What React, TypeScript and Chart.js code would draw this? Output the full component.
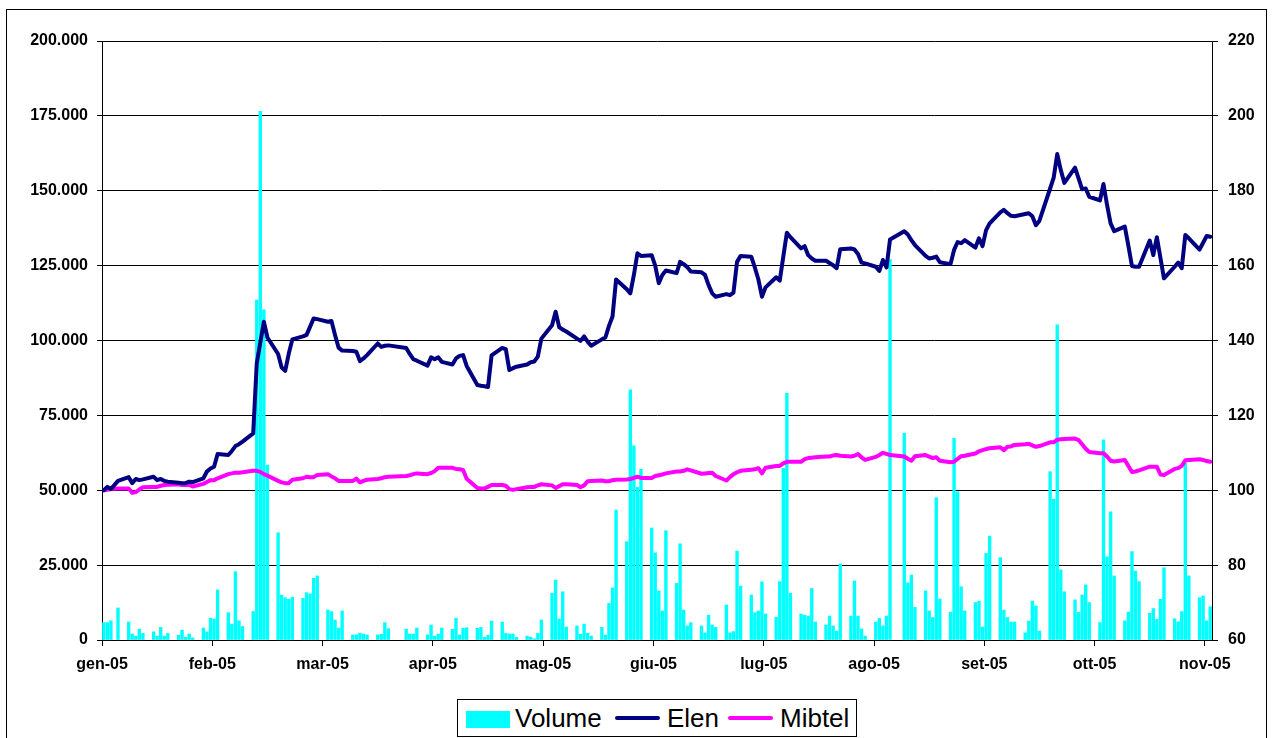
import React, { useEffect, useRef } from "react";
import { Chart, registerables } from "chart.js";

Chart.register(...registerables);

// ---- axis / category data ----
// Trading weekdays from Monday 3 Jan 2005 to Thursday 10 Nov 2005 (5 per week; null = market closed)
const monthLabels = ["gen-05", "feb-05", "mar-05", "apr-05", "mag-05", "giu-05", "lug-05", "ago-05", "set-05", "ott-05", "nov-05"];
// day offsets from 3 Jan 2005 of the month ticks (major unit 31 days)
const monthTickDays = [0, 31, 62, 93, 124, 155, 186, 217, 248, 279, 310];
const axisDays = 312;

const volumeTicks = [0, 25000, 50000, 75000, 100000, 125000, 150000, 175000, 200000];
const priceTicks = [60, 80, 100, 120, 140, 160, 180, 200, 220];

// ---- series (one value per weekday) ----
const volume = [
  5800, 5800, 6400, null, 10700,
  6000, 2000, 1300, 3600, 2200,
  2700, 1300, 4200, 1300, 2200,
  1600, 3300, 900, 2000, 700,
  4000, 2700, 7300, 7000, 16700,
  9100, 5300, 22800, 6400, 4500,
  9500, 113500, 176500, 110200, 58400,
  35800, 15000, 14100, 13600, 14300,
  13900, 15800, 15400, 20600, 21400,
  10000, 9500, 6700, 4000, 9700,
  1700, 1700, 2300, 2000, 1700,
  1700, 1900, 5800, 3800, null,
  null, 3600, 2000, 2000, 4000,
  1700, 5000, 1300, 2000, 4000,
  3600, 7300, 1700, 3900, 4100,
  3900, 4200, 900, 1600, 6300,
  6000, 2200, 2000, 2000, 900,
  1300, 900, 400, 2200, 6700,
  15600, 20000, 7000, 16100, 4300,
  4700, 1900, 5300, 2200, 1300,
  4200, 1600, 12200, 17400, 43400,
  32800, 83500, 64800, 51000, 57000,
  37400, 29100, 16400, 9700, 36500,
  18900, 32100, 10000, 4700, 5800,
  4700, 2400, 8300, 5000, 4200,
  11700, 2400, 2800, 29700, 18000,
  15000, 9100, 9700, 19400, 8700,
  7600, 19500, 57300, 82400, 15600,
  8700, 8300, 8000, 17200, 6000,
  5000, 8000, 4700, 3000, 25400,
  8000, 19700, 8000, 3700, 1300,
  6000, 7200, 4700, 8000, 127000,
  null, 69000, 19100, 21700, 10900,
  16400, 9700, 7500, 47500, 13700,
  9300, 67300, 49500, 17800, 9700,
  12500, 13000, 4300, 28900, 34700,
  27500, 10000, 7500, 6000, 6000,
  2400, 6300, 13000, 11400, 3000,
  56200, 47000, 105200, 23400, 16100,
  13400, 9200, 15000, 18400, 12500,
  5800, 66800, 27800, 42800, 21400,
  6400, 9300, 29500, 23000, 19500,
  8900, 10500, 6900, 13600, 24100,
  7100, 6100, 9500, 59000, 21400,
  14100, 14700, 6400, 11100,
];

const elen = [
  100.0, 100.9, 100.3, null, 102.5,
  103.5, 101.9, 103.0, 102.7, 102.9,
  103.6, 102.7, 103.0, 102.5, 102.3,
  102.0, 101.9, 101.9, 102.3, 102.2,
  103.2, 105.0, 105.8, 106.3, 109.7,
  109.4, 110.5, 111.8, 112.3, 113.0,
  115.2, 133.9, 139.5, 145.0, 140.8,
  136.4, 132.8, 131.9, 136.5, 140.3,
  141.1, 141.5, 143.7, 145.9, 145.7,
  145.0, 145.2, 141.5, 138.1, 137.3,
  137.2, 137.0, 134.5, 135.2, 136.1,
  139.2, 138.3, 138.6, 138.7, null,
  null, 138.0, 136.4, 135.0, 134.6,
  133.3, 135.5, 135.0, 135.5, 134.3,
  133.6, 135.2, 135.9, 136.1, 133.2,
  128.1, 127.9, 127.8, 127.6, 136.0,
  138.0, 137.7, 132.1, 132.6, 133.0,
  133.6, 134.2, 134.4, 135.7, 140.5,
  144.1, 147.7, 143.6, 142.9, 142.4,
  140.5, 139.9, 141.1, 139.7, 138.6,
  140.3, 140.8, 143.9, 146.4, 156.3,
  153.7, 152.6, 157.5, 163.3, 162.6,
  162.8, 160.0, 155.3, 157.5, 158.7,
  158.0, 161.0, 160.4, 159.6, 158.4,
  158.2, 157.5, 154.8, 152.6, 151.7,
  152.4, 152.1, 152.8, 161.0, 162.6,
  162.4, 159.5, 156.3, 151.7, 154.2,
  156.9, 156.0, 162.4, 168.8, 167.6,
  164.6, 165.2, 162.8, 161.9, 161.3,
  161.3, 160.7, 160.1, 159.3, 164.4,
  164.6, 164.3, 163.1, 160.8, 160.6,
  159.7, 158.6, 161.5, 159.5, 167.0,
  null, 169.2, 168.3, 166.8, 165.5,
  162.6, 161.9, 162.1, 162.4, 160.9,
  160.4, 164.2, 166.3, 166.0, 166.8,
  164.8, 167.3, 165.2, 169.5, 171.3,
  174.2, 174.9, 174.0, 173.3, 173.2,
  173.8, 174.0, 173.2, 170.8, 172.0,
  180.6, 183.5, 189.8, 185.5, 182.1,
  186.2, 183.3, 180.4, 180.6, 178.4,
  177.4, 181.8, 176.2, 171.3, 169.2,
  170.4, 165.3, 159.9, 159.7, 159.7,
  166.7, 162.8, 167.6, 162.1, 156.6,
  159.7, 160.8, 159.3, 168.2, 167.3,
  164.3, 166.1, 167.9, 167.7,
];

const mibtel = [
  100.0, 100.1, 100.3, null, 100.5,
  100.5, 99.3, 99.5, 100.2, 100.8,
  100.9, 100.9, 101.2, 101.4, 101.5,
  101.6, 101.4, 101.4, 101.4, 101.0,
  101.7, 102.2, 102.7, 102.7, 103.2,
  104.3, 104.5, 104.7, 104.7, 104.8,
  105.2, 105.2, 104.9, 104.3, 103.9,
  102.5, 102.1, 101.9, 101.9, 102.8,
  103.2, 103.6, 103.5, 103.5, 104.1,
  104.3, 103.7, 103.2, 102.5, 102.5,
  102.5, 103.1, 102.1, 102.5, 102.8,
  103.0, 103.2, 103.5, 103.6, null,
  null, 103.8, 104.0, 104.3, 104.5,
  104.3, 104.6, 105.1, 106.0, 106.0,
  106.0, 105.7, 105.6, 105.4, 103.1,
  100.6, 100.5, 100.5, 100.9, 101.4,
  101.4, 101.2, 100.3, 100.1, 100.3,
  100.8, 100.9, 100.9, 101.3, 101.6,
  101.3, 100.6, 101.1, 101.6, 101.6,
  101.4, 100.8, 101.3, 102.4, 102.5,
  102.6, 102.4, 102.4, 102.7, 102.8,
  102.9, 103.0, 103.3, 103.6, 103.3,
  103.3, 103.8, 104.0, 104.2, 104.5,
  105.0, 105.0, 105.2, 105.6, 105.3,
  104.4, 104.5, 104.6, 104.7, 103.8,
  102.6, 103.5, 104.3, 104.8, 105.2,
  105.5, 105.6, 105.9, 104.5, 106.0,
  106.5, 106.5, 107.2, 107.6, 107.6,
  107.6, 108.3, 108.6, 108.7, 108.8,
  109.0, 109.0, 109.3, 109.4, 109.2,
  109.0, 109.2, 109.7, 108.8, 108.1,
  108.9, 109.4, 110.0, 109.7, 109.4,
  null, 109.0, 108.4, 107.9, 109.1,
  109.4, 109.0, 108.6, 108.8, 107.9,
  107.5, 107.6, 108.4, 109.1, 109.2,
  109.8, 110.4, 110.7, 111.0, 111.2,
  111.5, 110.7, 111.6, 111.7, 112.1,
  112.3, 112.4, 112.0, 111.6, 111.8,
  112.8, 112.8, 113.5, 113.6, 113.7,
  113.8, 113.4, 112.3, 111.1, 110.2,
  109.9, 109.9, 109.0, 107.9, 107.7,
  108.1, 106.5, 104.9, 105.0, 105.3,
  106.3, 106.3, 106.3, 104.2, 104.1,
  105.7, 105.9, 106.5, 108.0, 108.1,
  108.3, 108.1, 107.8, 107.6,
];

// calendar day offset (from 3 Jan 2005) of each weekday in the lists
const tradingDays = volume.map((_, i) => 7 * Math.floor(i / 5) + (i % 5));

const FONT = '"Liberation Sans", Arial, Helvetica, sans-serif';

function toPoints(values: (number | null)[]) {
  return values.map((v, i) => ({ x: tradingDays[i] + 0.5, y: v }));
}

function fmtThousands(v: number) {
  if (v === 0) return "0";
  const s = Math.round(v).toString();
  return s.replace(/\B(?=(\d{3})+(?!\d))/g, ".");
}

export default function App() {
  const ref = useRef<HTMLCanvasElement | null>(null);

  useEffect(() => {
    if (!ref.current) return;
    const tickFont = { family: FONT, size: 16, weight: "bold" as const };
    const chart = new Chart(ref.current, {
      type: "bar",
      data: {
        datasets: [
          {
            type: "line",
            label: "Elen",
            data: toPoints(elen) as any,
            yAxisID: "y1",
            borderColor: "#000080",
            borderWidth: 4,
            pointRadius: 0,
            tension: 0,
            spanGaps: true,
            borderJoinStyle: "round",
            borderCapStyle: "round",
            order: 1,
          },
          {
            type: "line",
            label: "Mibtel",
            data: toPoints(mibtel) as any,
            yAxisID: "y1",
            borderColor: "#FF00FF",
            borderWidth: 4,
            pointRadius: 0,
            tension: 0,
            spanGaps: true,
            borderJoinStyle: "round",
            borderCapStyle: "round",
            order: 2,
          },
          {
            type: "bar",
            label: "Volume",
            data: toPoints(volume) as any,
            yAxisID: "y",
            backgroundColor: "#00FFFF",
            borderWidth: 0,
            barThickness: 2.7,
            order: 3,
          },
        ],
      },
      options: {
        responsive: false,
        animation: false,
        layout: { padding: { top: 41, left: 0, right: 0, bottom: 0 } },
        plugins: { legend: { display: false }, tooltip: { enabled: false } },
        scales: {
          x: {
            type: "linear",
            min: 0,
            max: axisDays,
            offset: false,
            afterBuildTicks: (scale: any) => {
              scale.ticks = monthTickDays.map((v) => ({ value: v }));
            },
            afterFit: (scale: any) => {
              scale.height = 98;
            },
            ticks: {
              autoSkip: false,
              maxRotation: 0,
              minRotation: 0,
              padding: 9,
              color: "#000",
              font: tickFont,
              callback: (_v: any, i: number) => monthLabels[i],
            },
            grid: {
              display: true,
              offset: false,
              drawOnChartArea: false,
              drawTicks: true,
              tickLength: 6,
              color: "#000",
              lineWidth: 1,
            },
            border: { display: true, color: "#000", width: 1 },
          },
          y: {
            position: "left",
            min: 0,
            max: 200000,
            afterBuildTicks: (scale: any) => {
              scale.ticks = volumeTicks.map((v) => ({ value: v }));
            },
            afterFit: (scale: any) => {
              scale.width = 102;
            },
            ticks: {
              padding: 9,
              color: "#000",
              font: tickFont,
              callback: (v: any) => fmtThousands(Number(v)),
            },
            grid: {
              display: true,
              drawOnChartArea: true,
              drawTicks: true,
              tickLength: 5,
              color: "#000",
              lineWidth: 1,
            },
            border: { display: true, color: "#000", width: 1 },
          },
          y1: {
            position: "right",
            min: 60,
            max: 220,
            afterBuildTicks: (scale: any) => {
              scale.ticks = priceTicks.map((v) => ({ value: v }));
            },
            afterFit: (scale: any) => {
              scale.width = 60;
            },
            ticks: {
              padding: 10,
              color: "#000",
              font: tickFont,
              callback: (v: any) => String(v),
            },
            grid: {
              display: true,
              drawOnChartArea: false,
              drawTicks: true,
              tickLength: 6,
              color: "#000",
              lineWidth: 1,
            },
            border: { display: true, color: "#000", width: 1 },
          },
        },
      } as any,
    });
    return () => chart.destroy();
  }, []);

  const legendText: React.CSSProperties = {
    position: "absolute",
    top: 705,
    fontFamily: FONT,
    fontSize: 26,
    lineHeight: "26px",
    color: "#000",
    whiteSpace: "nowrap",
  };

  return (
    <div
      style={{
        position: "absolute",
        left: 0,
        top: 0,
        width: 1272,
        height: 738,
        overflow: "hidden",
        background: "#ffffff",
      }}
    >
      <canvas
        ref={ref}
        width={1272}
        height={738}
        style={{ position: "absolute", left: 0, top: 0, width: 1272, height: 738 }}
      />
      <div
        style={{
          position: "absolute",
          left: 6,
          top: 9,
          width: 1261,
          height: 800,
          border: "1px solid #000",
          boxSizing: "border-box",
          pointerEvents: "none",
        }}
      />
      <div
        style={{
          position: "absolute",
          left: 457,
          top: 699,
          width: 400,
          height: 38,
          border: "1px solid #000",
          boxSizing: "border-box",
          background: "#fff",
        }}
      />
      <div style={{ position: "absolute", left: 466, top: 711, width: 44, height: 17, background: "#00FFFF" }} />
      <div style={{ ...legendText, left: 515 }}>Volume</div>
      <div style={{ position: "absolute", left: 615, top: 716, width: 45, height: 4, background: "#000080", borderRadius: 2 }} />
      <div style={{ ...legendText, left: 667 }}>Elen</div>
      <div style={{ position: "absolute", left: 728, top: 716, width: 45, height: 4, background: "#FF00FF", borderRadius: 2 }} />
      <div style={{ ...legendText, left: 780 }}>Mibtel</div>
    </div>
  );
}
